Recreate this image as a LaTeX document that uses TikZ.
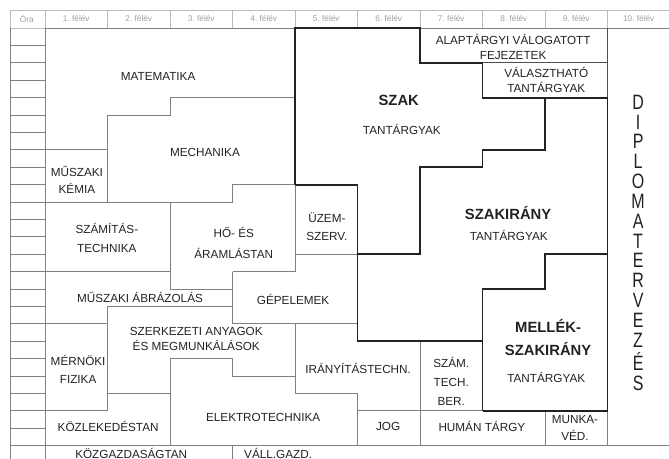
\documentclass[tikz,border=0pt]{standalone}
\usepackage{fontspec}
\setmainfont{Liberation Sans}
\usepackage{graphicx}
\usetikzlibrary{positioning}

\definecolor{ink}{HTML}{222222}
\definecolor{linegray}{HTML}{808080}
\definecolor{hdrgray}{HTML}{A0A0A0}

\begin{document}
\begin{tikzpicture}[
  x=46.875pt, y=-13.05pt,
  lbl/.style={font=\fontsize{8.8}{12.75}\selectfont, text=ink, align=center, inner sep=0pt},
  big/.style={font=\fontsize{11.1}{17.25}\selectfont\bfseries, text=ink, align=center, inner sep=0pt},
  hdr/.style={font=\fontsize{6.2}{7}\selectfont, text=hdrgray, inner sep=0pt},
  rule/.style={draw=linegray, line width=0.65pt},
  light/.style={draw=hdrgray!70, line width=0.5pt},
  mid/.style={draw=ink!80, line width=0.9pt},
  border/.style={draw=ink, line width=1.4pt, line join=miter},
]
\useasboundingbox (-0.72,-1.609) rectangle (9.984,24.77);

% header row
\draw[light] (-0.56,-1.03) rectangle (10,0);
\foreach \k in {0,...,9}
  \draw[light] (\k,-1.03) -- (\k,0);
\node[hdr] (ora) at (-0.29,-0.52) {Óra};
\foreach \k in {1,...,10}
  \node[hdr] (h\k) at (\k-0.5,-0.52) {\k.~félév};

% hour column
\draw[rule] (-0.56,0) -- (-0.56,25.5);
\draw[rule] (0,0) -- (0,25.5);
\foreach \r in {1,...,25}
  \draw[rule] (-0.56,\r) -- (0,\r);
\draw[rule] (0,0) -- (10,0);
\draw[rule] (0,24) -- (10,24);

% subject borders
\draw[rule] (0,7) -- (1,7);
\draw[rule] (1,10) -- (1,5) -- (2,5) -- (2,4) -- (4,4);
\draw[rule] (0,10) -- (3,10) -- (3,9) -- (4,9);
\draw[rule] (4,9) -- (4,14);
\draw[rule] (2,10) -- (2,15) -- (3,15);
\draw[rule] (3,14) -- (4,14);
\draw[rule] (0,14) -- (2,14);
\draw[rule] (3,14) -- (3,17) -- (5,17);
\draw[rule] (4,13) -- (5,13);
\draw[rule] (0,17) -- (1,17);
\draw[rule] (1,22) -- (1,16) -- (3,16);
\draw[rule] (0,22) -- (1,22);
\draw[rule] (1,21) -- (2,21);
\draw[rule] (2,24) -- (2,19) -- (3,19) -- (3,20) -- (4,20);
\draw[rule] (4,17) -- (4,21) -- (5,21) -- (5,24);
\draw[rule] (5,22) -- (7,22);
\draw[rule] (6,18) -- (6,24);
\draw[rule] (8,22) -- (8,24);
\draw[rule] (9,22) -- (9,24);
\draw[rule] (3,24) -- (3,25);
\draw[mid] (9,0) -- (9,4);
\draw[mid] (7,2) -- (9,2);

% szak / szakirány / mellék-szakirány
\draw[border] (4,9) -- (4,0) -- (6,0) -- (6,2) -- (7,2) -- (7,4) -- (8,4) -- (8,7)
  -- (7,7) -- (7,8) -- (6,8) -- (6,13) -- (5,13);
\draw[border] (4,9) -- (5,9) -- (5,18) -- (7,18);
\draw[border] (7,22) -- (7,15) -- (8,15) -- (8,13) -- (9,13);
\draw[border] (8,4) -- (9,4) -- (9,22) -- (7,22);

% subjects
\node[lbl] (mat) at (1.81,2.76) {MATEMATIKA};
\node[lbl] (mech) at (2.56,7.18) {MECHANIKA};
\node[lbl] (kem) at (0.51,8.72) {MŰSZAKI\\KÉMIA};
\node[lbl] (szt) at (0.99,12.05) {SZÁMÍTÁS-\\[1.5pt]TECHNIKA};
\node[lbl] (ho) at (3.02,12.35) {HŐ- ÉS\\[3.5pt]ÁRAMLÁSTAN};
\node[lbl] (uzem) at (4.51,11.44) {ÜZEM-\\[0.75pt]SZERV.};
\node[lbl] (abr) at (1.52,15.5) {MŰSZAKI ÁBRÁZOLÁS};
\node[lbl] (gep) at (3.97,15.6) {GÉPELEMEK};
\node[lbl] (szerk) at (2.42,17.85) {SZERKEZETI ANYAGOK\\[-1.5pt]ÉS MEGMUNKÁLÁSOK};
\node[lbl] (fiz) at (0.53,19.6) {MÉRNÖKI\\[0.75pt]FIZIKA};
\node[lbl] (irany) at (5.01,19.54) {IRÁNYÍTÁSTECHN.};
\node[lbl] (szber) at (6.5,20.3) {SZÁM.\\[1.5pt]TECH.\\[1.5pt]BER.};
\node[lbl] (kozl) at (1.01,22.9) {KÖZLEKEDÉSTAN};
\node[lbl] (elek) at (3.49,22.36) {ELEKTROTECHNIKA};
\node[lbl] (jog) at (5.49,22.9) {JOG};
\node[lbl] (hum) at (6.99,22.9) {HUMÁN TÁRGY};
\node[lbl] (mved) at (8.48,23.0) {MUNKA-\\VÉD.};
\node[lbl] (kgazd) at (1.38,24.45) {KÖZGAZDASÁGTAN};
\node[lbl] (vgazd) at (3.73,24.45) {VÁLL.GAZD.};

\node[lbl] (alap) at (7.49,1.1) {ALAPTÁRGYI VÁLOGATOTT\\[-1.5pt]FEJEZETEK};
\node[lbl] (valt) at (8.02,3.0) {VÁLASZTHATÓ\\[-1.5pt]TANTÁRGYAK};
\node[big] (szak) at (5.66,4.14) {SZAK};
\node[lbl] (szakt) at (5.71,5.86) {TANTÁRGYAK};
\node[big] (szir) at (7.41,10.63) {SZAKIRÁNY};
\node[lbl] (szirt) at (7.42,11.9) {TANTÁRGYAK};
\node[big] (mell) at (8.05,17.8) {MELLÉK-\\SZAKIRÁNY};
\node[lbl] (mellt) at (8.02,20.1) {TANTÁRGYAK};

% thesis column
\node[inner sep=0pt, text=ink] (dipl) at (9.49,12.5) {\scalebox{1}[1.3]{\fontsize{12}{10.55}\selectfont
  \begin{tabular}{@{}c@{}}D\\I\\P\\L\\O\\M\\A\\T\\E\\R\\V\\E\\Z\\É\\S\end{tabular}}};
\end{tikzpicture}
\end{document}
